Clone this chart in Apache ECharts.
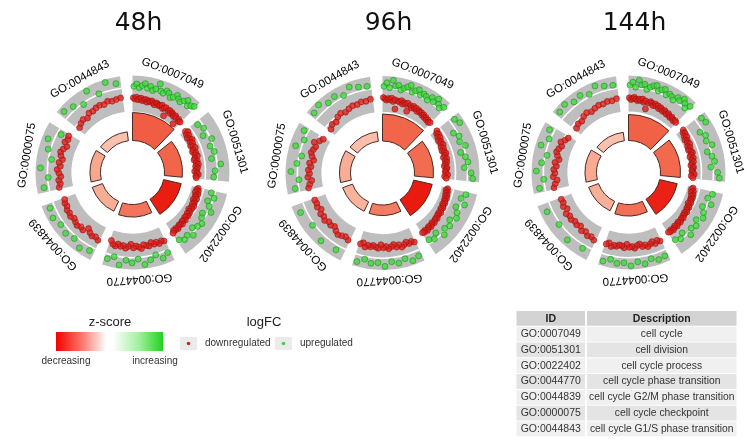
<!DOCTYPE html>
<html>
<head>
<meta charset="utf-8">
<script src="https://cdn.jsdelivr.net/npm/echarts@6/dist/echarts.min.js"></script>
<style>
  html, body { margin: 0; padding: 0; background: #ffffff; }
  #chart { width: 747px; height: 444px; }
</style>
</head>
<body>
<div id="chart"></div>
<script>
// GO terms shown in every circle (clockwise from 12 o'clock) and their descriptions
const goIds = ['GO:0007049', 'GO:0051301', 'GO:0022402', 'GO:0044770', 'GO:0044839', 'GO:0000075', 'GO:0044843'];
const descriptions = ['cell cycle', 'cell division', 'cell cycle process', 'cell cycle phase transition',
  'cell cycle G2/M phase transition', 'cell cycle checkpoint', 'cell cycle G1/S phase transition'];
const timeLabels = ['48h', '96h', '144h'];

// inner ring: term significance (-log10 adjusted p) and z-score per time point
const negLogP48 = [28, 18, 18, 12.5, 11, 10.5, 9];
const negLogP96 = [27, 19, 19, 10.5, 10.5, 11, 9.5];
const negLogP144 = [26, 20, 18, 11.5, 10.5, 11.5, 8.5];
const zScore48 = [-5.8, -5.6, -7.7, -5.2, -3.6, -3.8, -2.8];
const zScore96 = [-5.6, -5.4, -7.8, -5.0, -3.4, -3.6, -2.9];
const zScore144 = [-5.7, -5.5, -7.6, -5.3, -3.5, -3.7, -2.8];

// outer ring: logFC of the member genes, one list per term (down / up regulated)
const down48 = [
  [-0.7,-0.9,-0.6,-1.0,-0.8,-0.7,-1.1,-0.9,-0.8,-1.2,-0.9,-1.0,-0.8,-1.1,-1.3,-0.9,-1.0,-1.2,-1.1,-0.9,-1.4,-1.2,-1.0,-2.4,-1.3,-1.1,-1.5,-1.2,-1.4,-1.6,-1.3,-1.5,-2.6,-1.4,-1.7,-1.6],
  [-2.0,-1.7,-2.2,-1.9,-2.4,-2.1,-1.8,-2.3,-2.0,-2.5,-2.2,-1.9,-2.4,-2.6,-2.1,-2.3,-2.0,-2.5,-2.7,-2.2,-2.4,-2.1,-2.6,-2.3,-2.5,-2.8,-2.4,-2.2,-2.6,-2.5],
  [-1.9,-2.1,-1.8,-2.2,-1.7,-2.0,-1.9,-1.6,-2.1,-1.8,-1.7,-1.9,-1.5,-1.8,-1.6,-2.0,-1.7,-1.5,-1.8,-1.4,-1.6,-1.7,-1.3,-1.5,-1.6,-1.2,-1.4,-1.5,-1.3,-1.1,-1.4,-1.2,-1.3,-1.0],
  [-0.6,-0.8,-0.5,-0.9,-0.7,-1.1,-0.6,-0.8,-1.0,-0.4,-0.7,-0.9,-0.6,-1.2,-0.8,-0.5,-0.9,-0.7,-1.0,-0.6,-0.8,-1.3],
  [-0.5,-0.8,-0.6,-0.9,-1.3,-0.5,-0.7,-0.4,-0.6,-0.8,-0.5,-0.7,-0.6,-0.9,-0.8,-1.0],
  [-0.7,-1.0,-0.8,-1.2,-0.9,-0.6,-1.1,-0.8,-1.3,-0.9,-0.7,-1.0,-1.4,-0.8,-1.1,-0.9],
  [-1.6,-1.3,-1.1,-1.4,-0.9,-1.0,-0.8,-0.7,-0.9,-0.6,-0.8,-0.7,-0.6]
];
const up48 = [
  [1.2,1.6,1.0,1.4,1.8,1.1,1.5,0.9,1.3,2.3,1.2,1.0,1.6,1.4,0.8,1.1,1.7,1.3,1.0,1.5,2.0,1.2,1.6,1.9],
  [0.3,0.8,0.1,1.2,0.5,0.9,0.2,1.6,0.6,0.4],
  [0.4,1.1,0.2,0.8,1.5,0.3,0.6,1.2,0.9,0.4,1.4,0.7,1.0,0.5],
  [1.4,2.0,1.1,1.7,2.3,1.3,1.9,1.5,2.4,1.2,1.8],
  [1.7,2.2,1.5,1.9,1.6,2.1,1.8],
  [1.8,0.9,2.2,0.5,1.4,2.0,0.3],
  [2.1,1.6,0.8,2.4,1.1,2.5,1.9]
];
const down96 = [
  [-0.6,-0.8,-1.0,-0.7,-0.9,-0.6,-1.1,-0.8,-2.3,-0.9,-1.0,-0.7,-1.2,-0.9,-1.1,-0.8,-2.1,-1.0,-1.3,-0.9,-1.2,-1.0,-1.4,-1.1,-1.3,-1.2,-1.5,-1.3,-1.6,-1.4,-1.7,-1.5,-1.8,-1.6],
  [-1.7,-2.0,-1.8,-2.2,-1.9,-2.4,-2.1,-2.3,-2.0,-2.5,-2.2,-2.6,-2.3,-2.1,-2.4,-2.7,-2.2,-2.5,-2.3,-2.6,-2.8,-2.4,-2.5,-2.7,-2.6,-2.3,-2.8,-2.5],
  [-2.0,-2.2,-1.9,-2.1,-1.8,-2.0,-1.7,-1.9,-1.8,-1.6,-1.9,-1.7,-1.5,-1.8,-1.6,-1.4,-1.7,-1.5,-1.6,-1.3,-1.5,-1.4,-1.2,-1.5,-1.3,-1.1,-1.4,-1.2,-1.0,-1.3,-1.1,-1.2],
  [-0.5,-0.8,-0.6,-1.0,-0.7,-0.4,-0.9,-0.6,-1.1,-0.8,-0.5,-0.9,-0.7,-1.2,-0.6,-0.8,-1.0,-0.7,-0.9,-0.5,-1.1,-0.8],
  [-0.6,-0.9,-0.7,-0.5,-0.8,-1.2,-0.9,-1.1,-0.7,-1.0,-0.8,-1.3,-0.9,-1.1,-1.0],
  [-0.6,-0.9,-1.3,-0.7,-1.0,-0.8,-1.2,-0.9,-1.5,-1.1,-0.8,-1.0,-1.2,-0.7,-1.4,-1.8],
  [-1.9,-1.5,-1.7,-1.2,-1.0,-1.3,-1.1,-0.9,-1.0,-0.8,-0.9,-0.7]
];
const up96 = [
  [1.3,1.9,1.1,2.4,1.5,1.7,1.0,1.4,1.8,2.2,1.2,1.6,2.0,1.3,1.7,1.5,1.1,1.9,1.4,2.3,1.6,1.2,1.8],
  [1.8,2.2,0.4,1.0,0.7,1.4,0.3,0.9,1.2,0.5,1.6,1.9],
  [1.2,0.6,1.5,0.3,0.9,1.3,0.5,1.1,0.7,1.4,0.2,0.8,0.4],
  [1.9,2.3,1.6,2.1,1.7,2.4,1.8,2.0,1.5,2.2],
  [1.8,2.1,1.4,2.0],
  [1.6,0.8,2.1,1.2,0.6,2.0,1.0,1.7],
  [2.0,2.4,1.6,1.9,1.3,2.2,1.7,1.5]
];
const down144 = [
  [-0.7,-1.0,-0.8,-0.6,-0.9,-1.1,-0.8,-1.0,-0.7,-1.2,-0.9,-2.2,-1.1,-0.8,-1.0,-1.3,-0.9,-1.2,-1.0,-1.4,-1.1,-1.3,-1.5,-1.2,-1.4,-1.6,-1.3,-1.5,-1.7,-1.4,-1.6,-1.8,-1.5,-1.7],
  [-1.6,-1.9,-1.7,-2.1,-1.8,-2.3,-2.0,-2.2,-1.9,-2.4,-2.1,-2.5,-2.2,-2.0,-2.3,-2.6,-2.1,-2.4,-2.2,-2.5,-2.7,-2.3,-2.4,-2.6,-2.5,-2.2,-2.7,-2.4],
  [-2.1,-2.3,-1.9,-2.2,-1.8,-2.0,-1.7,-1.9,-1.8,-1.6,-2.0,-1.7,-1.5,-1.8,-1.6,-1.4,-1.7,-1.5,-1.6,-1.3,-1.5,-1.4,-1.2,-1.5,-1.3,-1.1,-1.4,-1.2,-1.0,-1.3,-1.1,-1.2],
  [-0.6,-0.9,-0.5,-1.0,-0.7,-0.4,-0.8,-0.6,-1.1,-0.9,-0.5,-0.8,-0.7,-1.2,-0.6,-0.9,-1.0,-0.7,-0.8,-0.5,-1.0,-0.7],
  [-0.5,-0.8,-0.6,-1.0,-0.7,-1.2,-0.9,-1.1,-0.8,-1.0,-0.7,-1.3,-0.9,-1.2,-1.1],
  [-0.5,-0.8,-1.2,-0.6,-0.9,-0.7,-1.1,-0.8,-1.4,-1.0,-0.7,-0.9,-1.2,-0.8,-1.3,-1.6],
  [-1.8,-1.5,-1.6,-1.2,-1.0,-1.3,-1.1,-0.9,-1.0,-0.8,-0.9,-0.7]
];
const up144 = [
  [1.4,1.9,1.1,2.3,1.6,1.8,1.0,1.5,1.9,2.1,1.3,1.7,2.0,1.2,1.6,1.4,1.0,1.8,1.5,2.2,1.7,1.1,1.9],
  [2.0,2.2,0.5,1.1,0.8,1.5,0.4,1.0,1.3,0.6,1.7,2.0],
  [1.3,0.7,1.6,0.4,1.0,1.4,0.6,1.2,0.8,1.5,0.3,0.9,0.5],
  [2.0,2.2,1.7,2.3,1.8,2.4,1.9,2.1,1.6,2.2],
  [1.6,2.0,1.3,1.9],
  [1.9,1.0,2.2,1.4,0.7,2.1,1.2,1.8],
  [2.1,2.4,1.7,2.0,1.4,2.3,1.8,1.6]
];

// ---- layout ----
const panels = [
  { title: timeLabels[0], cx: 132.5, cy: 172.5, p: negLogP48, z: zScore48, down: down48, up: up48 },
  { title: timeLabels[1], cx: 382.5, cy: 173, p: negLogP96, z: zScore96, down: down96, up: up96 },
  { title: timeLabels[2], cx: 628.5, cy: 172.5, p: negLogP144, z: zScore144, down: down144, up: up144 }
];
const STEP = 360 / goIds.length;   // angular slot of each term
const SPAN = 44;                   // angular width of the drawn sector
const LFC_MIN = -3, LFC_MAX = 3;

const polar = [], angleAxis = [], radiusAxis = [], series = [], graphic = [];
const hiddenAxis = { show: false, axisLine: { show: false }, axisTick: { show: false }, axisLabel: { show: false }, splitLine: { show: false } };

function geom(params, api) {
  const cs = params.coordSys;
  const dist = pt => Math.hypot(pt[0] - cs.cx, pt[1] - cs.cy);
  const ang = pt => Math.atan2(pt[1] - cs.cy, pt[0] - cs.cx);
  return { cs, dist, ang, at: (r, a) => api.coord([r, a]) };
}
function arcAngles(g, r, a0, a1) {
  const s = g.ang(g.at(r, a0));
  let e = g.ang(g.at(r, a1));
  while (e <= s) e += Math.PI * 2;
  return [s, e];
}

const barSeriesIdx = [];
panels.forEach((pn, i) => {
  const barPolar = polar.length;
  polar.push({ center: [pn.cx, pn.cy], radius: [32, 62] });
  angleAxis.push(Object.assign({ polarIndex: barPolar, type: 'value', min: 0, max: 360, startAngle: 90, clockwise: true }, hiddenAxis));
  radiusAxis.push(Object.assign({ polarIndex: barPolar, type: 'value', min: 0, max: 30 }, hiddenAxis));

  const lfcPolar = polar.length;
  polar.push({ center: [pn.cx, pn.cy], radius: [61, 97] });
  angleAxis.push(Object.assign({ polarIndex: lfcPolar, type: 'value', min: 0, max: 360, startAngle: 90, clockwise: true }, hiddenAxis));
  radiusAxis.push(Object.assign({ polarIndex: lfcPolar, type: 'value', min: LFC_MIN, max: LFC_MAX }, hiddenAxis));

  // inner significance bars, coloured by z-score
  barSeriesIdx.push(series.length);
  series.push({
    type: 'custom', coordinateSystem: 'polar', polarIndex: barPolar, silent: true, z: 3,
    dimensions: ['radius', 'angle', 'zscore'],
    encode: { radius: 0, angle: 1 },
    data: pn.p.map((v, k) => [v, k * STEP, pn.z[k]]),
    renderItem(params, api) {
      const g = geom(params, api);
      const a0 = api.value(1), a1 = a0 + SPAN;
      const [s, e] = arcAngles(g, 0, a0, a1);
      return {
        type: 'sector',
        shape: { cx: g.cs.cx, cy: g.cs.cy, r0: g.dist(g.at(0, a0)), r: g.dist(g.at(api.value(0), a0)), startAngle: s, endAngle: e, clockwise: true },
        style: { fill: api.visual('color'), stroke: '#4b2a24', lineWidth: 1 }
      };
    }
  });

  // grey logFC tracks with white guide lines
  series.push({
    type: 'custom', coordinateSystem: 'polar', polarIndex: lfcPolar, silent: true, z: 2,
    encode: { radius: 0, angle: 1 },
    data: goIds.map((id, k) => [0, k * STEP]),
    renderItem(params, api) {
      const g = geom(params, api);
      const a0 = api.value(1), a1 = a0 + SPAN;
      const [s, e] = arcAngles(g, 0, a0, a1);
      const R = v => g.dist(g.at(v, a0));
      const sec = (r0, r, fill) => ({ type: 'sector', shape: { cx: g.cs.cx, cy: g.cs.cy, r0, r, startAngle: s, endAngle: e, clockwise: true }, style: { fill } });
      return {
        type: 'group',
        children: [
          sec(R(LFC_MIN), R(LFC_MAX), '#bebebe'),
          sec(R(-1) - 0.8, R(-1) + 0.8, '#ffffff'),
          sec(R(1) - 0.8, R(1) + 0.8, '#ffffff')
        ]
      };
    }
  });

  // gene points, spread evenly along each term's sector
  const spread = lists => {
    const out = [];
    lists.forEach((vals, k) => vals.forEach((v, j) => out.push([v, k * STEP + (j + 0.5) / vals.length * SPAN])));
    return out;
  };
  series.push({
    type: 'scatter', coordinateSystem: 'polar', polarIndex: lfcPolar, silent: true, z: 4,
    symbolSize: 6, data: spread(pn.down),
    itemStyle: { color: '#e0201b', borderColor: '#8f1010', borderWidth: 0.7 }
  });
  series.push({
    type: 'scatter', coordinateSystem: 'polar', polarIndex: lfcPolar, silent: true, z: 5,
    symbolSize: 6, data: spread(pn.up),
    itemStyle: { color: '#3fdc3a', borderColor: '#23802a', borderWidth: 0.7 }
  });

  // term labels along the outside of each sector
  series.push({
    type: 'custom', coordinateSystem: 'polar', polarIndex: lfcPolar, silent: true, z: 6,
    encode: { radius: 0, angle: 1 },
    data: goIds.map((id, k) => [LFC_MAX, k * STEP + SPAN / 2]),
    renderItem(params, api) {
      const g = geom(params, api);
      const pt = g.at(api.value(0), api.value(1));
      const th = g.ang(pt);
      const r = g.dist(pt) + 10;
      return {
        type: 'text',
        x: g.cs.cx + r * Math.cos(th), y: g.cs.cy + r * Math.sin(th),
        rotation: -(th + Math.PI / 2),
        style: { text: goIds[params.dataIndex], textAlign: 'center', textVerticalAlign: 'middle', fontSize: 11.5, fontFamily: 'Liberation Sans, Arial, sans-serif', fill: '#000' }
      };
    }
  });

  graphic.push({ type: 'text', x: pn.cx + 6, y: 23, style: { text: pn.title, textAlign: 'center', textVerticalAlign: 'middle', fontSize: 25, fontFamily: 'DejaVu Sans, sans-serif', fill: '#111' } });
});

// ---- z-score legend ----
graphic.push({ type: 'text', x: 110, y: 322.5, style: { text: 'z-score', textAlign: 'center', textVerticalAlign: 'middle', fontSize: 13, fontFamily: 'Liberation Sans, Arial, sans-serif', fill: '#222' } });
graphic.push({ type: 'rect', shape: { x: 56, y: 332, width: 107, height: 19 }, style: { fill: new echarts.graphic.LinearGradient(0, 0, 1, 0, [
  { offset: 0, color: '#f40000' }, { offset: 0.25, color: '#fb7a6e' }, { offset: 0.47, color: '#ffffff' },
  { offset: 0.53, color: '#ffffff' }, { offset: 0.78, color: '#9ff09a' }, { offset: 1, color: '#1fd31f' }]) } });
graphic.push({ type: 'text', x: 66, y: 361, style: { text: 'decreasing', textAlign: 'center', textVerticalAlign: 'middle', fontSize: 10, fontFamily: 'Liberation Sans, Arial, sans-serif', fill: '#333' } });
graphic.push({ type: 'text', x: 155, y: 361, style: { text: 'increasing', textAlign: 'center', textVerticalAlign: 'middle', fontSize: 10, fontFamily: 'Liberation Sans, Arial, sans-serif', fill: '#333' } });

// ---- logFC legend ----
graphic.push({ type: 'text', x: 264, y: 322.5, style: { text: 'logFC', textAlign: 'center', textVerticalAlign: 'middle', fontSize: 13, fontFamily: 'Liberation Sans, Arial, sans-serif', fill: '#222' } });
[[180, '#d8201c', 'downregulated'], [275, '#3fd63a', 'upregulated']].forEach(([x, c, t]) => {
  graphic.push({ type: 'rect', shape: { x, y: 337, width: 17, height: 13 }, style: { fill: '#ebebeb' } });
  graphic.push({ type: 'circle', shape: { cx: x + 8.5, cy: 343.5, r: 1.8 }, style: { fill: c } });
  graphic.push({ type: 'text', x: x + 25, y: 343.5, style: { text: t, textAlign: 'left', textVerticalAlign: 'middle', fontSize: 10, fontFamily: 'Liberation Sans, Arial, sans-serif', fill: '#333' } });
});

// ---- ID / Description table ----
const TX = 516.5, COL = 585, TR = 736.5, HY = 311, HH = 15.7, RH = 15.8;
graphic.push({ type: 'rect', shape: { x: TX, y: HY, width: COL - TX, height: HH - 1 }, style: { fill: '#d3d3d3' } });
graphic.push({ type: 'rect', shape: { x: COL + 2, y: HY, width: TR - COL - 2, height: HH - 1 }, style: { fill: '#d3d3d3' } });
graphic.push({ type: 'text', x: (TX + COL) / 2, y: HY + HH / 2, style: { text: 'ID', textAlign: 'center', textVerticalAlign: 'middle', fontSize: 10.5, fontWeight: 'bold', fontFamily: 'Liberation Sans, Arial, sans-serif', fill: '#222' } });
graphic.push({ type: 'text', x: (COL + 2 + TR) / 2, y: HY + HH / 2, style: { text: 'Description', textAlign: 'center', textVerticalAlign: 'middle', fontSize: 10.5, fontWeight: 'bold', fontFamily: 'Liberation Sans, Arial, sans-serif', fill: '#222' } });
goIds.forEach((id, k) => {
  const y = HY + HH + k * RH;
  const fill = k % 2 === 0 ? '#f0f0f0' : '#e4e4e4';
  graphic.push({ type: 'rect', shape: { x: TX, y, width: COL - TX, height: RH - 1 }, style: { fill } });
  graphic.push({ type: 'rect', shape: { x: COL + 2, y, width: TR - COL - 2, height: RH - 1 }, style: { fill } });
  graphic.push({ type: 'text', x: (TX + COL) / 2, y: y + RH / 2 - 0.5, style: { text: id, textAlign: 'center', textVerticalAlign: 'middle', fontSize: 10.5, fontFamily: 'Liberation Sans, Arial, sans-serif', fill: '#333' } });
  graphic.push({ type: 'text', x: (COL + 2 + TR) / 2, y: y + RH / 2 - 0.5, style: { text: descriptions[k], textAlign: 'center', textVerticalAlign: 'middle', fontSize: 10.3, fontFamily: 'Liberation Sans, Arial, sans-serif', fill: '#333' } });
});

const chart = echarts.init(document.getElementById('chart'), null, { renderer: 'canvas' });
chart.setOption({
  animation: false,
  backgroundColor: '#ffffff',
  polar, angleAxis, radiusAxis,
  visualMap: {
    type: 'continuous', show: false, min: -8, max: 8, dimension: 2, seriesIndex: barSeriesIdx,
    inRange: { color: ['#e8140a', '#f0553a', '#f7a389', '#fcd5c8', '#ffffff', '#c6f5c0', '#8aea82', '#4bdc44', '#1fd31f'] }
  },
  series,
  graphic
});
</script>
</body>
</html>
